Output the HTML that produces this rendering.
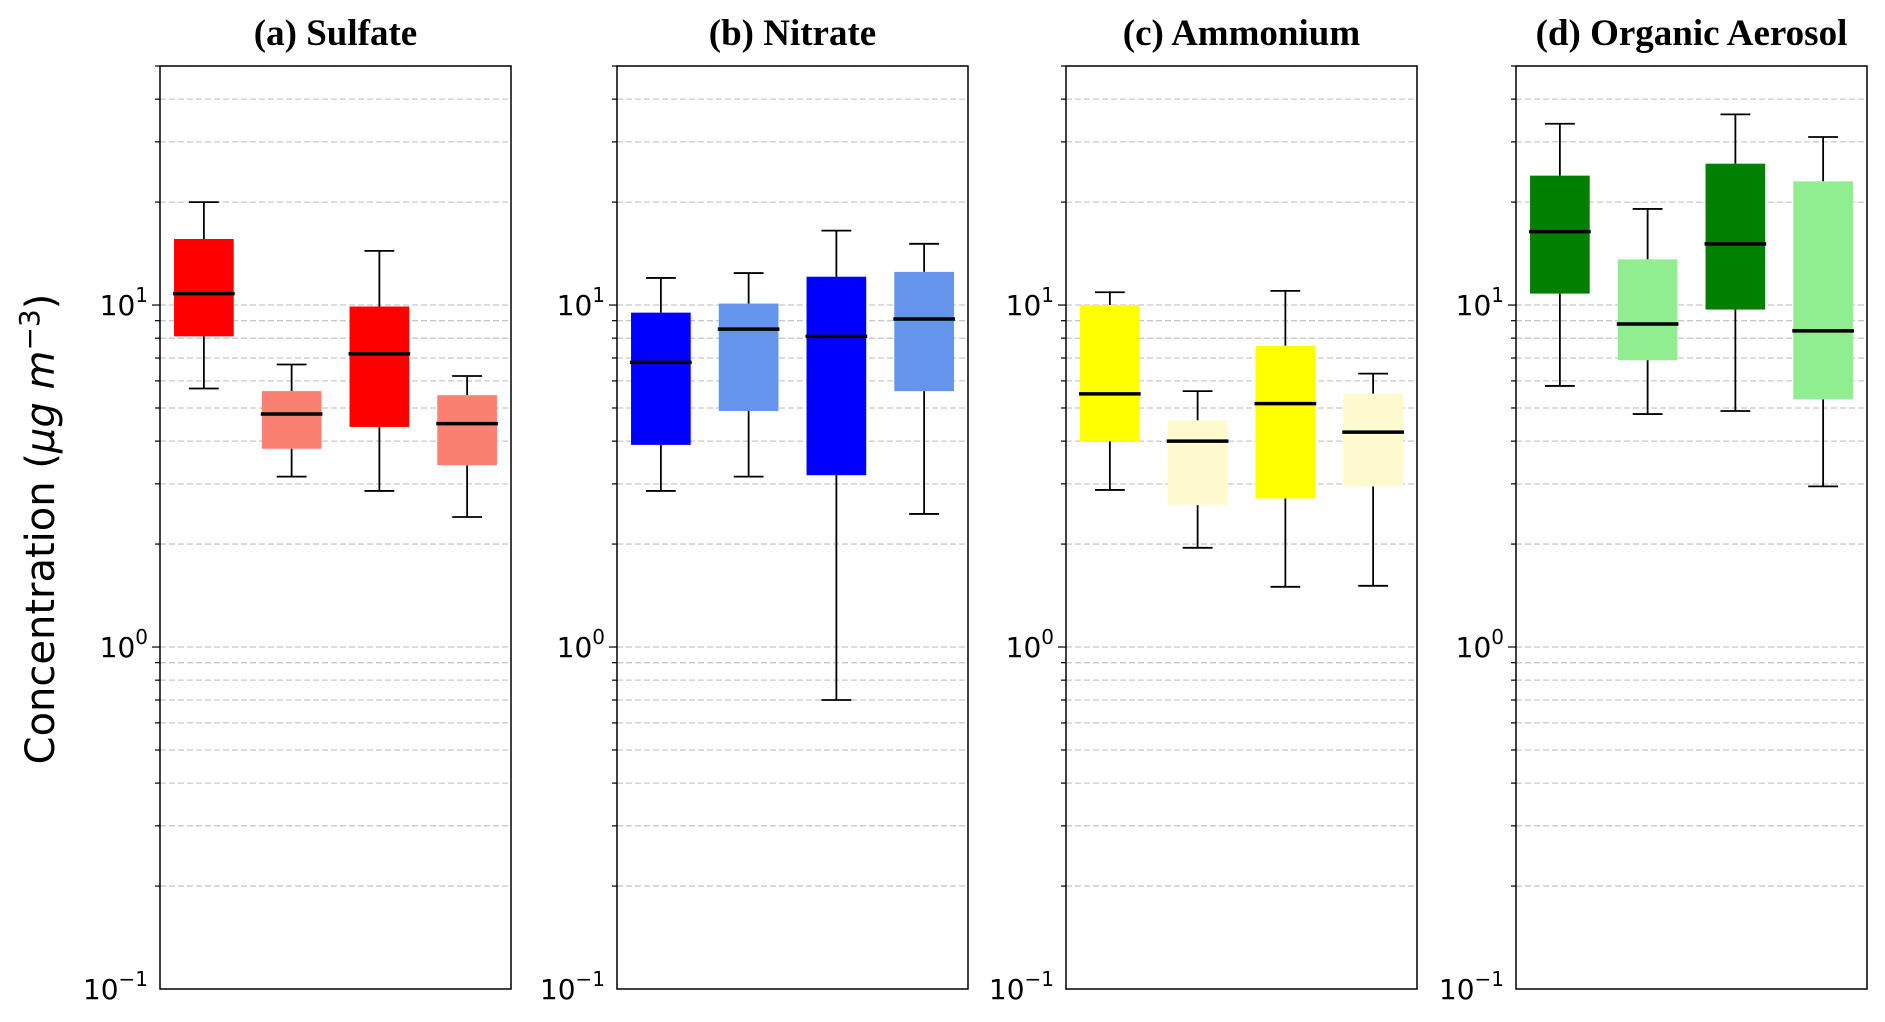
<!DOCTYPE html>
<html><head><meta charset="utf-8"><style>
html,body{margin:0;padding:0;background:#fff;}
svg{display:block;font-family:"DejaVu Sans","Liberation Sans",sans-serif;}
</style></head><body>
<svg id="chart" width="1885" height="1022" viewBox="0 0 1885 1022" xmlns="http://www.w3.org/2000/svg">
<text transform="translate(54,529) rotate(-90)" text-anchor="middle" font-size="40" font-family="DejaVu Sans, sans-serif">Concentration (<tspan font-style="italic">μg m</tspan><tspan font-size="28" dy="-15">−3</tspan><tspan dy="15">)</tspan></text>
</svg>
<script>
const panelTitles = ["(a) Sulfate", "(b) Nitrate", "(c) Ammonium", "(d) Organic Aerosol"];
const panelColors = [["#ff0000","#fa8072"],["#0000ff","#6495ed"],["#ffff00","#fffacd"],["#008000","#90ee90"]];
const whiskerHigh = [[20.0,6.7,14.4,6.2],[12.0,12.4,16.5,15.1],[10.9,5.6,11.0,6.3],[33.9,19.1,36.1,31.0]];
const q3Values   = [[15.6,5.6,9.9,5.45],[9.5,10.1,12.1,12.5],[10.0,4.6,7.6,5.5],[23.9,13.6,25.9,23.0]];
const medianValues = [[10.8,4.8,7.2,4.5],[6.8,8.5,8.1,9.1],[5.5,4.0,5.15,4.25],[16.4,8.8,15.1,8.4]];
const q1Values   = [[8.1,3.8,4.4,3.4],[3.9,4.9,3.18,5.6],[4.0,2.6,2.72,2.95],[10.8,6.9,9.7,5.3]];
const whiskerLow = [[5.7,3.15,2.86,2.4],[2.86,3.15,0.70,2.45],[2.88,1.95,1.5,1.51],[5.8,4.8,4.9,2.95]];
const yTickExps = [1,0,-1];

const svg = document.getElementById('chart');
const NS = "http://www.w3.org/2000/svg";
const top0 = 66, bot0 = 989, yMin = 0.1, yMax = 50;
const panelLeft = [160, 617, 1066, 1516], panelW = 351;
function yScale(v){ return bot0 - (Math.log10(v) - Math.log10(yMin)) / (Math.log10(yMax) - Math.log10(yMin)) * (bot0 - top0); }
function xScale(p, pos){ return panelLeft[p] + (pos - 0.5) / 4 * panelW; }
function mk(tag, attrs){ const e = document.createElementNS(NS, tag); for (const k in attrs) e.setAttribute(k, attrs[k]); svg.appendChild(e); return e; }

for (let p = 0; p < 4; p++) {
  const L = panelLeft[p], R = L + panelW;
  for (let e = -1; e <= 1; e++) {
    for (let m = 1; m <= 9; m++) {
      const v = m * Math.pow(10, e);
      if (v <= yMin || v > yMax) continue;
      const y = yScale(v);
      const g = mk('line', {x1: L, x2: R, y1: y, y2: y, stroke: '#c8c8c8', 'stroke-width': 1.3, 'stroke-dasharray': '6,3'});
      
      
      const t = mk('line', {x1: L - (m === 1 ? 8 : 5), x2: L, y1: y, y2: y, stroke: '#000', 'stroke-width': 1.2});
      
      
    }
  }
  yTickExps.forEach(ex => {
    const y = yScale(Math.pow(10, ex));
    const tx = mk('text', {x: L - 12, y: y + 10, 'text-anchor': 'end', 'font-size': 28});
    
    
    tx.innerHTML = '10<tspan font-size="20" dy="-13">' + (ex < 0 ? '−' + (-ex) : ex) + '</tspan>';
  });
  for (let i = 0; i < 4; i++) {
    const cx = xScale(p, i + 1), hw = 0.34 / 4 * panelW, cw = 0.17 / 4 * panelW;
    const col = panelColors[p][i % 2];
    const w1 = mk('line', {x1: cx, x2: cx, y1: yScale(whiskerHigh[p][i]), y2: yScale(q3Values[p][i]), stroke: '#000', 'stroke-width': 1.8});
    
    
    const w2 = mk('line', {x1: cx, x2: cx, y1: yScale(q1Values[p][i]), y2: yScale(whiskerLow[p][i]), stroke: '#000', 'stroke-width': 1.8});
    
    
    [whiskerHigh[p][i], whiskerLow[p][i]].forEach(v => {
      const c = mk('line', {x1: cx - cw, x2: cx + cw, y1: yScale(v), y2: yScale(v), stroke: '#000', 'stroke-width': 1.8});
      
      
    });
    const yq3 = yScale(q3Values[p][i]), yq1 = yScale(q1Values[p][i]);
    const b = mk('rect', {x: cx - hw, y: yq3, width: 2 * hw, height: yq1 - yq3, fill: col});
    
    
    const md = mk('line', {x1: cx - hw - 1, x2: cx + hw + 1, y1: yScale(medianValues[p][i]), y2: yScale(medianValues[p][i]), stroke: '#000', 'stroke-width': 3.5});
    
    
  }
  const fr = mk('rect', {x: L, y: top0, width: panelW, height: bot0 - top0, fill: 'none', stroke: '#000', 'stroke-width': 1.5});
  
  
  const ti = mk('text', {x: L + panelW / 2, y: 45, 'text-anchor': 'middle', 'font-size': 37, 'font-weight': 'bold', 'font-family': 'Liberation Serif, serif'});
  
  
  ti.textContent = panelTitles[p];
}
</script>
</body></html>
